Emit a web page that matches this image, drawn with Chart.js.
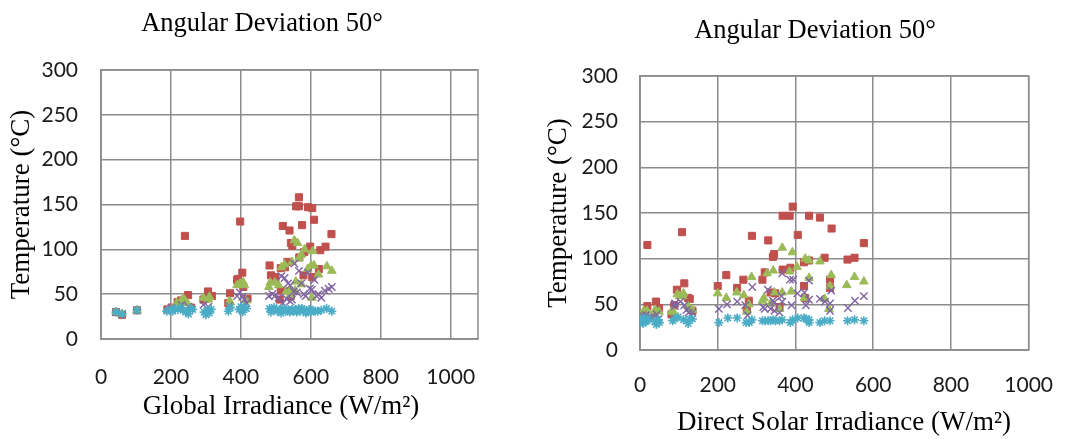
<!DOCTYPE html>
<html lang="en">

<head>
    <meta charset="UTF-8">
    <title>Angular Deviation 50°</title>
    <script src="https://cdn.jsdelivr.net/npm/chart.js"></script>
    <style>
        body { margin: 0; background: #fff; }
        canvas { position: absolute; top: 0; }
        #globalChart { left: 0; }
        #directChart { left: 540px; }
    </style>
</head>

<body>
    <canvas id="globalChart" width="538" height="439"></canvas>
    <canvas id="directChart" width="536" height="439"></canvas>

    <script>
        // Left panel: temperature vs global irradiance
        const globalRed = [[43,30],[60,27],[103,32],[190,33],[202,35],[219,41],[229,43],[240,115],[249,49],[258,35],[293,44],[300,45],[306,53],[317,48],[364,40],[369,51],[389,66],[392,67],[398,131],[404,74],[407,58],[419,45],[482,82],[486,71],[499,69],[514,79],[526,80],[511,44],[514,54],[520,126],[533,86],[539,121],[543,107],[543,48],[547,104],[558,148],[566,158],[566,148],[567,91],[575,127],[579,71],[581,97],[592,147],[604,146],[609,133],[598,103],[604,69],[623,78],[627,99],[642,103],[659,117]];
        const globalGreen = [[43,30],[60,28],[103,32],[202,33],[217,40],[230,43],[236,45],[240,43],[247,40],[293,46],[307,44],[310,47],[367,42],[370,41],[389,60],[398,62],[404,62],[407,63],[410,60],[416,43],[480,58],[484,63],[497,63],[508,60],[516,80],[525,83],[530,53],[541,55],[541,49],[546,86],[553,110],[557,64],[555,54],[562,107],[566,90],[573,94],[573,61],[582,100],[591,78],[601,82],[605,98],[609,82],[603,46],[622,72],[646,81],[660,76]];
        const globalPurple = [[43,30],[60,28],[103,32],[202,35],[230,38],[250,36],[293,38],[307,36],[366,37],[389,48],[397,52],[404,47],[410,44],[416,40],[480,48],[490,50],[497,48],[508,46],[516,70],[520,40],[525,68],[530,45],[535,62],[541,60],[541,42],[546,44],[551,53],[553,84],[560,52],[566,76],[573,62],[580,50],[585,48],[592,74],[597,56],[603,55],[610,66],[616,48],[622,50],[630,46],[640,54],[651,56],[660,58]];
        const globalCyan = [[43,30],[60,28],[103,32],[188,31],[196,33],[205,31],[212,34],[220,33],[228,35],[235,32],[242,30],[250,28],[256,34],[262,33],[295,30],[300,27],[305,32],[310,29],[315,33],[364,31],[370,35],[395,33],[400,36],[405,30],[410,35],[416,34],[482,34],[486,30],[495,35],[504,31],[510,33],[515,29],[520,34],[528,31],[535,33],[540,30],[546,33],[550,31],[556,33],[560,30],[565,34],[570,31],[575,34],[580,32],[586,29],[590,31],[595,33],[600,30],[606,32],[612,31],[620,31],[630,32],[645,34],[660,31]];

        // Right panel: temperature vs direct solar irradiance
        const directRed = [[19,115],[19,48],[41,53],[49,46],[81,39],[88,49],[95,66],[108,129],[114,73],[124,57],[128,56],[135,43],[200,70],[222,82],[250,68],[266,77],[275,44],[280,54],[288,125],[315,77],[321,85],[330,120],[336,63],[342,102],[345,105],[348,62],[359,47],[367,88],[367,147],[385,147],[387,90],[393,157],[406,126],[422,70],[422,96],[425,57],[435,147],[435,98],[463,145],[475,101],[489,77],[489,68],[493,133],[534,99],[552,101],[576,117]];
        const directGreen = [[10,43],[12,41],[18,43],[39,44],[36,38],[49,42],[81,42],[86,42],[96,61],[102,59],[110,59],[112,62],[124,48],[128,45],[135,44],[200,62],[222,57],[249,63],[267,60],[275,42],[280,50],[287,80],[315,54],[319,57],[327,84],[336,51],[343,87],[346,63],[359,45],[366,63],[366,112],[385,86],[389,64],[392,107],[404,91],[423,57],[425,100],[435,98],[435,79],[463,97],[475,56],[486,45],[489,70],[492,82],[532,71],[552,80],[576,75]];
        const directPurple = [[6,38],[15,38],[22,36],[29,36],[43,39],[48,34],[90,48],[90,51],[104,53],[114,49],[120,44],[125,41],[135,41],[203,45],[224,50],[250,53],[271,49],[277,38],[289,69],[317,47],[321,45],[329,66],[336,45],[342,54],[345,52],[346,43],[359,41],[364,59],[366,84],[366,53],[386,77],[390,49],[394,77],[405,62],[423,63],[427,49],[435,76],[435,55],[463,56],[476,53],[489,43],[489,51],[492,65],[535,46],[553,54],[576,59]];
        const directCyan = [[2,33],[5,31],[8,29],[10,33],[12,35],[14,31],[18,32],[22,34],[38,31],[42,28],[46,33],[50,30],[84,32],[88,34],[98,36],[112,33],[124,29],[128,34],[135,34],[203,30],[226,35],[250,35],[273,30],[281,30],[288,33],[315,32],[322,32],[330,32],[336,32],[342,33],[348,32],[359,32],[366,33],[387,30],[393,33],[406,35],[422,35],[427,34],[435,33],[435,30],[463,30],[475,32],[489,32],[534,32],[552,33],[576,32]];

        const xTicks = [0, 200, 400, 600, 800, 1000];
        const yTicks = [0, 50, 100, 150, 200, 250, 300];
        const panelTitle = 'Angular Deviation 50°';
        const yTitle = 'Temperature (°C)';

        const GRID = '#8c8c8c';
        const TICK_FONT = { family: 'Lato', size: 21 };
        const AXIS_FONT = { family: 'Liberation Serif', size: 27 };

        // plot frame, centred panel title and x-axis title
        const framePlugin = {
            id: 'frame',
            beforeDatasetsDraw(chart) {
                const { ctx, chartArea: a } = chart;
                ctx.save();
                ctx.strokeStyle = GRID;
                ctx.lineWidth = 1.5;
                ctx.strokeRect(a.left, a.top, a.right - a.left, a.bottom - a.top);
                ctx.restore();
            },
            afterDraw(chart, args, opts) {
                const ctx = chart.ctx;
                ctx.save();
                ctx.fillStyle = '#000';
                ctx.textAlign = 'center';
                ctx.textBaseline = 'middle';
                ctx.font = '26.5px "Liberation Serif"';
                ctx.fillText(opts.text, opts.x, opts.y);
                ctx.font = AXIS_FONT.size + 'px "Liberation Serif"';
                ctx.fillText(opts.xTitle, opts.xTitleX, opts.xTitleY);
                ctx.restore();
            }
        };

        const toPoints = arr => arr.map(p => ({ x: p[0], y: p[1] }));

        function series(red, green, purple, cyan) {
            return [
                { label: 'S2', data: toPoints(red), order: 4, pointStyle: 'rect', radius: 5,
                  backgroundColor: '#C0504D', borderColor: '#C0504D', borderWidth: 1 },
                { label: 'S3', data: toPoints(green), order: 3, pointStyle: 'triangle', radius: 5,
                  backgroundColor: '#9BBB59', borderColor: '#9BBB59', borderWidth: 1 },
                { label: 'S4', data: toPoints(purple), order: 2, pointStyle: 'crossRot', radius: 5.2,
                  backgroundColor: '#8064A2', borderColor: '#8064A2', borderWidth: 1.4 },
                { label: 'S5', data: toPoints(cyan), order: 1, pointStyle: 'star', radius: 4.5,
                  backgroundColor: '#4BACC6', borderColor: '#4BACC6', borderWidth: 1.6 }
            ];
        }

        function makeChart(id, o) {
            return new Chart(document.getElementById(id), {
                type: 'scatter',
                data: { datasets: series(...o.data) },
                options: {
                    responsive: false,
                    animation: false,
                    layout: { padding: { left: 0, right: o.padRight, top: o.top, bottom: 0 } },
                    plugins: {
                        legend: { display: false },
                        tooltip: { enabled: false },
                        frame: { text: panelTitle, x: o.titleX, y: o.titleY,
                                 xTitle: o.xTitle, xTitleX: o.xTitleX, xTitleY: o.xTitleY }
                    },
                    scales: {
                        x: {
                            type: 'linear', min: 0, max: o.xMax,
                            afterBuildTicks: s => { s.ticks = xTicks.map(v => ({ value: v })); },
                            ticks: { font: TICK_FONT, color: '#1a1a1a', padding: o.xTickPad, maxRotation: 0,
                                     autoSkip: false, callback: v => String(v) },
                            grid: { color: GRID, lineWidth: 1.5, drawTicks: false },
                            border: { color: GRID, width: 1.5 },
                            afterFit: s => { s.height = o.xHeight; }
                        },
                        y: {
                            type: 'linear', min: 0, max: 300,
                            afterBuildTicks: s => { s.ticks = yTicks.map(v => ({ value: v })); },
                            ticks: { font: TICK_FONT, color: '#1a1a1a', padding: o.yTickPad, callback: v => String(v) },
                            grid: { color: GRID, lineWidth: 1.5, drawTicks: false },
                            border: { color: GRID, width: 1.5 },
                            title: { display: true, text: yTitle, font: AXIS_FONT, color: '#000',
                                     padding: { top: o.yTitlePad, bottom: 0 } },
                            afterFit: s => { s.width = o.yWidth; }
                        }
                    }
                },
                plugins: [framePlugin]
            });
        }

        makeChart('globalChart', {
            data: [globalRed, globalGreen, globalPurple, globalCyan],
            xTitle: 'Global Irradiance (W/m²)',
            xMax: 1078, padRight: 60, top: 70,
            yWidth: 101, xHeight: 100,
            xTickPad: 26, yTickPad: 23, yTitlePad: 6,
            titleX: 262, titleY: 24, xTitleX: 281, xTitleY: 407
        });

        makeChart('directChart', {
            data: [directRed, directGreen, directPurple, directCyan],
            xTitle: 'Direct Solar Irradiance (W/m²)',
            xMax: 1000, padRight: 26, top: 76,
            yWidth: 100, xHeight: 89,
            xTickPad: 23, yTickPad: 22, yTitlePad: 3,
            titleX: 275, titleY: 31, xTitleX: 304, xTitleY: 423
        });
    </script>
</body>

</html>
